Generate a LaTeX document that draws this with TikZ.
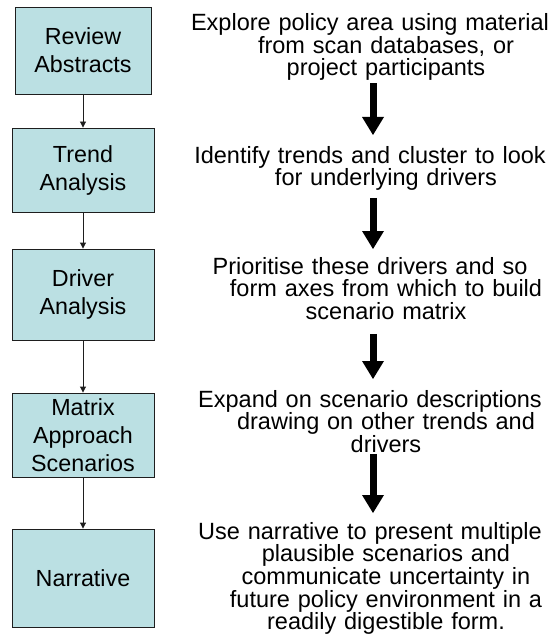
\documentclass[tikz,border=0pt]{standalone}
\usepackage{fontspec}
\setmainfont{Liberation Sans}
\usetikzlibrary{arrows.meta, positioning}
\definecolor{boxfill}{RGB}{187,224,227}
\definecolor{boxline}{RGB}{30,30,30}
% pull the first line of a note to the left
\newcommand{\firstline}{\hspace*{-32pt}}

\begin{document}
\begin{tikzpicture}[x=1pt, y=-1pt,
  stage/.style={rectangle, draw=boxline, fill=boxfill, line width=0.9pt, align=center,
    font=\fontsize{23.3}{28}\selectfont, inner sep=0pt},
  note/.style={text width=400pt, align=center, anchor=north, inner sep=0pt,
    font=\fontsize{23.5}{22.6}\selectfont},
  link/.style={-{Triangle[length=6pt, width=6pt]}, line width=0.9pt, draw=boxline},
  bigarrow/.style={-{Triangle[length=18pt, width=22pt, line width=0pt]}, line width=7pt}
]
\useasboundingbox (0,0) rectangle (551,636);
% stages on the left
\node[stage, minimum width=136pt, minimum height=87pt] (review) at (83,50.5) {Review\\Abstracts};
\node[stage, minimum width=142pt, minimum height=84pt] (trend) at (83,170) {Trend\\Analysis};
\node[stage, minimum width=142pt, minimum height=91pt] (driver) at (83,294.5) {Driver\\Analysis};
\node[stage, minimum width=142pt, minimum height=84pt] (matrix) at (83,435) {Matrix\\Approach\\Scenarios};
\node[stage, minimum width=142pt, minimum height=98pt] (narr) at (83,578) {Narrative};
\draw[link] (review) -- (trend);
\draw[link] (trend) -- (driver);
\draw[link] (driver) -- (matrix);
\draw[link] (matrix) -- (narr);
% notes on the right
\node[note] (n1) at (386,13.5) {\firstline Explore policy area using material\\from scan databases, or\\project participants};
\node[note] (n2) at (386,146) {\firstline Identify trends and cluster to look\\for underlying drivers};
\node[note] (n3) at (386,257) {\firstline Prioritise these drivers and so\\form axes from which to build\\scenario matrix};
\node[note] (n4) at (386,390) {\firstline Expand on scenario descriptions\\drawing on other trends and\\drivers};
\node[note] (n5) at (386,522) {\firstline Use narrative to present multiple\\plausible scenarios and\\communicate uncertainty in\\future policy environment in a\\readily digestible form.};
\coordinate (ax) at (373,0);
\draw[bigarrow, shorten <=2pt, shorten >=11pt] (n1.south -| ax) -- (n2.north -| ax);
\draw[bigarrow, shorten <=7pt, shorten >=8pt] (n2.south -| ax) -- (n3.north -| ax);
\draw[bigarrow, shorten <=14pt, shorten >=11pt] (n3.south -| ax) -- (n4.north -| ax);
\draw[bigarrow, shorten <=1pt, shorten >=9pt] (n4.south -| ax) -- (n5.north -| ax);
\end{tikzpicture}
\end{document}
